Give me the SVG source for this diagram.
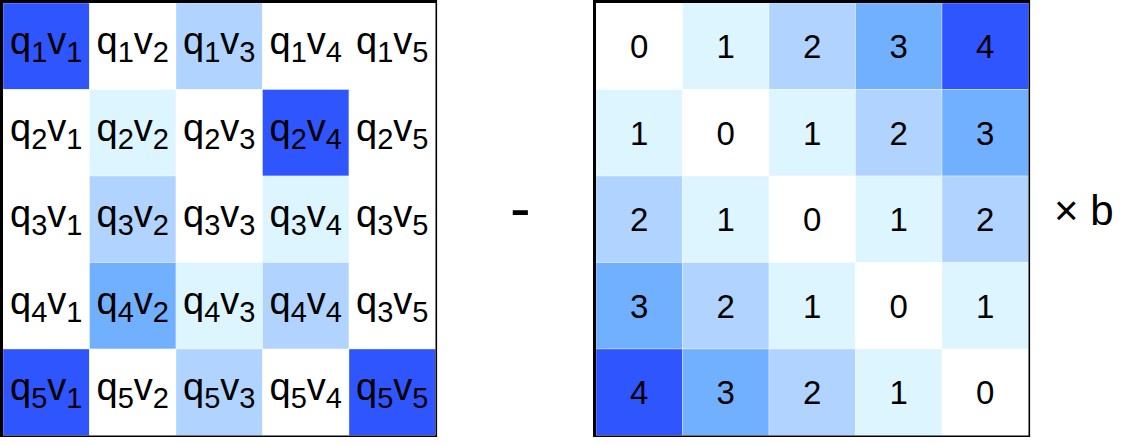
<svg xmlns="http://www.w3.org/2000/svg" width="1129" height="445" viewBox="0 0 1129 445">
<style>
.c0{fill:#ffffff}
.c1{fill:#ddf5ff}
.c2{fill:#b0d4ff}
.c3{fill:#70b0ff}
.c4{fill:#2f55ff}
.cell{stroke:#ffffff;stroke-opacity:0.35;stroke-width:1}
.t{font-family:"Liberation Sans",Arial,sans-serif;font-size:38px;fill:#000;text-anchor:middle}
.s{font-size:29px}
.d{font-family:"Liberation Sans",Arial,sans-serif;font-size:33px;fill:#000;text-anchor:middle}
.frame{fill:none;stroke:#000}
</style>
<rect width="1129" height="445" fill="#ffffff"/>
<g id="matrix-qv">
<rect class="cell c4" x="3" y="3" width="86.5" height="86.5"/>
<rect class="cell c0" x="89.5" y="3" width="86.5" height="86.5"/>
<rect class="cell c2" x="176" y="3" width="86.5" height="86.5"/>
<rect class="cell c0" x="262.5" y="3" width="86.5" height="86.5"/>
<rect class="cell c0" x="349" y="3" width="86.5" height="86.5"/>
<rect class="cell c0" x="3" y="89.5" width="86.5" height="86.5"/>
<rect class="cell c1" x="89.5" y="89.5" width="86.5" height="86.5"/>
<rect class="cell c0" x="176" y="89.5" width="86.5" height="86.5"/>
<rect class="cell c4" x="262.5" y="89.5" width="86.5" height="86.5"/>
<rect class="cell c0" x="349" y="89.5" width="86.5" height="86.5"/>
<rect class="cell c0" x="3" y="176" width="86.5" height="86.5"/>
<rect class="cell c2" x="89.5" y="176" width="86.5" height="86.5"/>
<rect class="cell c0" x="176" y="176" width="86.5" height="86.5"/>
<rect class="cell c1" x="262.5" y="176" width="86.5" height="86.5"/>
<rect class="cell c0" x="349" y="176" width="86.5" height="86.5"/>
<rect class="cell c0" x="3" y="262.5" width="86.5" height="86.5"/>
<rect class="cell c3" x="89.5" y="262.5" width="86.5" height="86.5"/>
<rect class="cell c1" x="176" y="262.5" width="86.5" height="86.5"/>
<rect class="cell c2" x="262.5" y="262.5" width="86.5" height="86.5"/>
<rect class="cell c0" x="349" y="262.5" width="86.5" height="86.5"/>
<rect class="cell c4" x="3" y="349" width="86.5" height="86.5"/>
<rect class="cell c0" x="89.5" y="349" width="86.5" height="86.5"/>
<rect class="cell c2" x="176" y="349" width="86.5" height="86.5"/>
<rect class="cell c0" x="262.5" y="349" width="86.5" height="86.5"/>
<rect class="cell c4" x="349" y="349" width="86.5" height="86.5"/>
<path class="frame" d="M1.5,0 V437" stroke-width="3"/>
<path class="frame" d="M0,1.5 H437" stroke-width="3"/>
<path class="frame" d="M436.3,0 V437" stroke-width="1.6"/>
<path class="frame" d="M0,436.3 H437" stroke-width="1.6"/>
<text class="t" x="46.3" y="54">q<tspan class="s" dy="8">1</tspan><tspan dy="-8">v</tspan><tspan class="s" dy="8">1</tspan></text>
<text class="t" x="132.8" y="54">q<tspan class="s" dy="8">1</tspan><tspan dy="-8">v</tspan><tspan class="s" dy="8">2</tspan></text>
<text class="t" x="219.3" y="54">q<tspan class="s" dy="8">1</tspan><tspan dy="-8">v</tspan><tspan class="s" dy="8">3</tspan></text>
<text class="t" x="305.8" y="54">q<tspan class="s" dy="8">1</tspan><tspan dy="-8">v</tspan><tspan class="s" dy="8">4</tspan></text>
<text class="t" x="392.3" y="54">q<tspan class="s" dy="8">1</tspan><tspan dy="-8">v</tspan><tspan class="s" dy="8">5</tspan></text>
<text class="t" x="46.3" y="140.5">q<tspan class="s" dy="8">2</tspan><tspan dy="-8">v</tspan><tspan class="s" dy="8">1</tspan></text>
<text class="t" x="132.8" y="140.5">q<tspan class="s" dy="8">2</tspan><tspan dy="-8">v</tspan><tspan class="s" dy="8">2</tspan></text>
<text class="t" x="219.3" y="140.5">q<tspan class="s" dy="8">2</tspan><tspan dy="-8">v</tspan><tspan class="s" dy="8">3</tspan></text>
<text class="t" x="305.8" y="140.5">q<tspan class="s" dy="8">2</tspan><tspan dy="-8">v</tspan><tspan class="s" dy="8">4</tspan></text>
<text class="t" x="392.3" y="140.5">q<tspan class="s" dy="8">2</tspan><tspan dy="-8">v</tspan><tspan class="s" dy="8">5</tspan></text>
<text class="t" x="46.3" y="227">q<tspan class="s" dy="8">3</tspan><tspan dy="-8">v</tspan><tspan class="s" dy="8">1</tspan></text>
<text class="t" x="132.8" y="227">q<tspan class="s" dy="8">3</tspan><tspan dy="-8">v</tspan><tspan class="s" dy="8">2</tspan></text>
<text class="t" x="219.3" y="227">q<tspan class="s" dy="8">3</tspan><tspan dy="-8">v</tspan><tspan class="s" dy="8">3</tspan></text>
<text class="t" x="305.8" y="227">q<tspan class="s" dy="8">3</tspan><tspan dy="-8">v</tspan><tspan class="s" dy="8">4</tspan></text>
<text class="t" x="392.3" y="227">q<tspan class="s" dy="8">3</tspan><tspan dy="-8">v</tspan><tspan class="s" dy="8">5</tspan></text>
<text class="t" x="46.3" y="313.5">q<tspan class="s" dy="8">4</tspan><tspan dy="-8">v</tspan><tspan class="s" dy="8">1</tspan></text>
<text class="t" x="132.8" y="313.5">q<tspan class="s" dy="8">4</tspan><tspan dy="-8">v</tspan><tspan class="s" dy="8">2</tspan></text>
<text class="t" x="219.3" y="313.5">q<tspan class="s" dy="8">4</tspan><tspan dy="-8">v</tspan><tspan class="s" dy="8">3</tspan></text>
<text class="t" x="305.8" y="313.5">q<tspan class="s" dy="8">4</tspan><tspan dy="-8">v</tspan><tspan class="s" dy="8">4</tspan></text>
<text class="t" x="392.3" y="313.5">q<tspan class="s" dy="8">3</tspan><tspan dy="-8">v</tspan><tspan class="s" dy="8">5</tspan></text>
<text class="t" x="46.3" y="400">q<tspan class="s" dy="8">5</tspan><tspan dy="-8">v</tspan><tspan class="s" dy="8">1</tspan></text>
<text class="t" x="132.8" y="400">q<tspan class="s" dy="8">5</tspan><tspan dy="-8">v</tspan><tspan class="s" dy="8">2</tspan></text>
<text class="t" x="219.3" y="400">q<tspan class="s" dy="8">5</tspan><tspan dy="-8">v</tspan><tspan class="s" dy="8">3</tspan></text>
<text class="t" x="305.8" y="400">q<tspan class="s" dy="8">5</tspan><tspan dy="-8">v</tspan><tspan class="s" dy="8">4</tspan></text>
<text class="t" x="392.3" y="400">q<tspan class="s" dy="8">5</tspan><tspan dy="-8">v</tspan><tspan class="s" dy="8">5</tspan></text>
</g>
<g id="minus">
<text x="510" y="229" font-family="Liberation Sans, Arial, sans-serif" font-size="62" fill="#000">-</text>
</g>
<g id="matrix-dist">
<rect class="cell c0" x="596" y="3" width="86.5" height="86.5"/>
<rect class="cell c1" x="682.5" y="3" width="86.5" height="86.5"/>
<rect class="cell c2" x="769" y="3" width="86.5" height="86.5"/>
<rect class="cell c3" x="855.5" y="3" width="86.5" height="86.5"/>
<rect class="cell c4" x="942" y="3" width="86.5" height="86.5"/>
<rect class="cell c1" x="596" y="89.5" width="86.5" height="86.5"/>
<rect class="cell c0" x="682.5" y="89.5" width="86.5" height="86.5"/>
<rect class="cell c1" x="769" y="89.5" width="86.5" height="86.5"/>
<rect class="cell c2" x="855.5" y="89.5" width="86.5" height="86.5"/>
<rect class="cell c3" x="942" y="89.5" width="86.5" height="86.5"/>
<rect class="cell c2" x="596" y="176" width="86.5" height="86.5"/>
<rect class="cell c1" x="682.5" y="176" width="86.5" height="86.5"/>
<rect class="cell c0" x="769" y="176" width="86.5" height="86.5"/>
<rect class="cell c1" x="855.5" y="176" width="86.5" height="86.5"/>
<rect class="cell c2" x="942" y="176" width="86.5" height="86.5"/>
<rect class="cell c3" x="596" y="262.5" width="86.5" height="86.5"/>
<rect class="cell c2" x="682.5" y="262.5" width="86.5" height="86.5"/>
<rect class="cell c1" x="769" y="262.5" width="86.5" height="86.5"/>
<rect class="cell c0" x="855.5" y="262.5" width="86.5" height="86.5"/>
<rect class="cell c1" x="942" y="262.5" width="86.5" height="86.5"/>
<rect class="cell c4" x="596" y="349" width="86.5" height="86.5"/>
<rect class="cell c3" x="682.5" y="349" width="86.5" height="86.5"/>
<rect class="cell c2" x="769" y="349" width="86.5" height="86.5"/>
<rect class="cell c1" x="855.5" y="349" width="86.5" height="86.5"/>
<rect class="cell c0" x="942" y="349" width="86.5" height="86.5"/>
<path class="frame" d="M594.5,0 V437" stroke-width="3"/>
<path class="frame" d="M593,1.5 H1030" stroke-width="3"/>
<path class="frame" d="M1029.3,0 V437" stroke-width="1.6"/>
<path class="frame" d="M593,436.3 H1030" stroke-width="1.6"/>
<text class="d" x="639.3" y="58">0</text>
<text class="d" x="725.8" y="58">1</text>
<text class="d" x="812.3" y="58">2</text>
<text class="d" x="898.8" y="58">3</text>
<text class="d" x="985.3" y="58">4</text>
<text class="d" x="639.3" y="144.5">1</text>
<text class="d" x="725.8" y="144.5">0</text>
<text class="d" x="812.3" y="144.5">1</text>
<text class="d" x="898.8" y="144.5">2</text>
<text class="d" x="985.3" y="144.5">3</text>
<text class="d" x="639.3" y="231">2</text>
<text class="d" x="725.8" y="231">1</text>
<text class="d" x="812.3" y="231">0</text>
<text class="d" x="898.8" y="231">1</text>
<text class="d" x="985.3" y="231">2</text>
<text class="d" x="639.3" y="317.5">3</text>
<text class="d" x="725.8" y="317.5">2</text>
<text class="d" x="812.3" y="317.5">1</text>
<text class="d" x="898.8" y="317.5">0</text>
<text class="d" x="985.3" y="317.5">1</text>
<text class="d" x="639.3" y="404">4</text>
<text class="d" x="725.8" y="404">3</text>
<text class="d" x="812.3" y="404">2</text>
<text class="d" x="898.8" y="404">1</text>
<text class="d" x="985.3" y="404">0</text>
</g>
<g id="times-b">
<text x="1054" y="225" font-family="Liberation Sans, Arial, sans-serif" font-size="42" fill="#000">× b</text>
</g>
<g id="connectors"/>
</svg>
